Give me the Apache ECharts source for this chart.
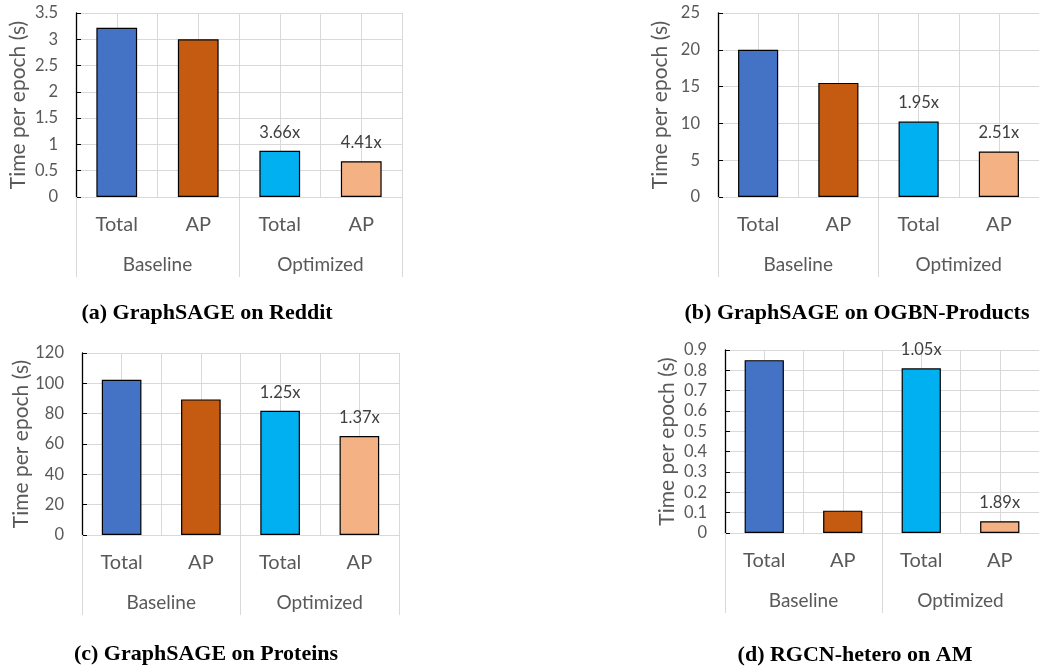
<!DOCTYPE html>
<html>
<head>
<meta charset="utf-8">
<script src="https://cdn.jsdelivr.net/npm/echarts@6/dist/echarts.min.js"></script>
<style>
	html, body { margin: 0; padding: 0; background: #fff; }
	#chart { width: 1039px; height: 667px; }
</style>
</head>
<body>
<div id="chart"></div>
<script>
// categories on each panel
const categories = ['Total', 'AP', 'Total', 'AP']
const groups = ['Baseline', 'Optimized']

// time per epoch (s)
const redditTimes = [3.22, 3.0, 0.88, 0.68]
const productsTimes = [20.0, 15.5, 10.25, 6.18]
const proteinsTimes = [102.4, 89.4, 81.9, 65.3]
const amTimes = [0.85, 0.11, 0.81, 0.058]

// speedup labels
const redditSpeedups = ['', '', '3.66x', '4.41x']
const productsSpeedups = ['', '', '1.95x', '2.51x']
const proteinsSpeedups = ['', '', '1.25x', '1.37x']
const amSpeedups = ['', '', '1.05x', '1.89x']

// y axis ranges
const yMax = [3.5, 25, 120, 0.9]
const yStep = [0.5, 5, 20, 0.1]

const captions = [
	'(a) GraphSAGE on Reddit',
	'(b) GraphSAGE on OGBN-Products',
	'(c) GraphSAGE on Proteins',
	'(d) RGCN-hetero on AM',
]

const panels = [
	{ times: redditTimes, speedups: redditSpeedups },
	{ times: productsTimes, speedups: productsSpeedups },
	{ times: proteinsTimes, speedups: proteinsSpeedups },
	{ times: amTimes, speedups: amSpeedups },
]

const barColors = ['#4472C4', '#C55A11', '#00B0F0', '#F4B183']
const gridBoxes = [
	{ left: 76, top: 13, width: 326, height: 184 },
	{ left: 718, top: 13, width: 330, height: 184 },
	{ left: 82, top: 353, width: 317, height: 182 },
	{ left: 725, top: 350, width: 324, height: 183 },
]
const captionPos = [
	[207, 313],
	[857, 313],
	[206, 654],
	[855, 655],
]

const labelFont = 'Lato'
const grey = '#595959'
const gridGrey = '#d9d9d9'

const chart = echarts.init(document.getElementById('chart'))

const grid = []
const xAxis = []
const yAxis = []
const series = []
const graphic = []

panels.forEach((p, i) => {
	grid.push(gridBoxes[i])

	// bar categories
	xAxis.push({
		type: 'category',
		gridIndex: i,
		data: categories,
		position: 'bottom',
		axisLine: { lineStyle: { color: gridGrey, width: 1 } },
		axisTick: { show: false },
		splitLine: { show: false },
		axisLabel: {
			margin: 18,
			color: grey,
			fontSize: 20,
			fontFamily: labelFont,
		},
	})
	// group row with separators
	xAxis.push({
		type: 'category',
		gridIndex: i,
		data: groups,
		position: 'bottom',
		axisLine: { show: false },
		axisTick: {
			show: true,
			interval: 0,
			length: 80,
			lineStyle: { color: gridGrey },
		},
		splitLine: { show: false },
		axisLabel: {
			margin: 58,
			color: grey,
			fontSize: 19,
			fontFamily: labelFont,
		},
	})
	// vertical gridlines every half category
	xAxis.push({
		type: 'category',
		gridIndex: i,
		data: categories.flatMap((c) => [c, c]),
		position: 'bottom',
		axisLine: { show: false },
		axisTick: { show: false },
		axisLabel: { show: false },
		splitLine: { show: true, interval: 0, lineStyle: { color: gridGrey } },
	})

	yAxis.push({
		type: 'value',
		gridIndex: i,
		min: 0,
		max: yMax[i],
		interval: yStep[i],
		name: 'Time per epoch (s)',
		nameLocation: 'middle',
		nameGap: 47,
		nameTextStyle: { color: grey, fontSize: 21, fontFamily: labelFont },
		axisLine: { show: true, lineStyle: { color: '#000', width: 1.3 } },
		axisTick: { show: true, inside: true, length: 5, lineStyle: { color: '#000' } },
		axisLabel: { margin: 18, color: grey, fontSize: 16.5, fontFamily: labelFont },
		splitLine: { show: true, lineStyle: { color: gridGrey } },
	})

	series.push({
		type: 'bar',
		xAxisIndex: i * 3,
		yAxisIndex: i,
		barWidth: '50%',
		z: 3,
		data: p.times.map((v, j) => ({
			value: v,
			itemStyle: { color: barColors[j], borderColor: '#000', borderWidth: 1.2 },
		})),
		label: {
			show: true,
			position: 'top',
			distance: 10,
			color: '#404040',
			fontSize: 16.5,
			fontFamily: labelFont,
			formatter: (d) => p.speedups[d.dataIndex],
		},
	})

	graphic.push({
		type: 'text',
		x: captionPos[i][0],
		y: captionPos[i][1],
		style: {
			text: captions[i],
			font: 'bold 22px "Liberation Serif"',
			fill: '#000',
			textAlign: 'center',
			textVerticalAlign: 'middle',
		},
	})
})

chart.setOption({
	animation: false,
	grid: grid,
	xAxis: xAxis,
	yAxis: yAxis,
	series: series,
	graphic: graphic,
})
</script>
</body>
</html>
